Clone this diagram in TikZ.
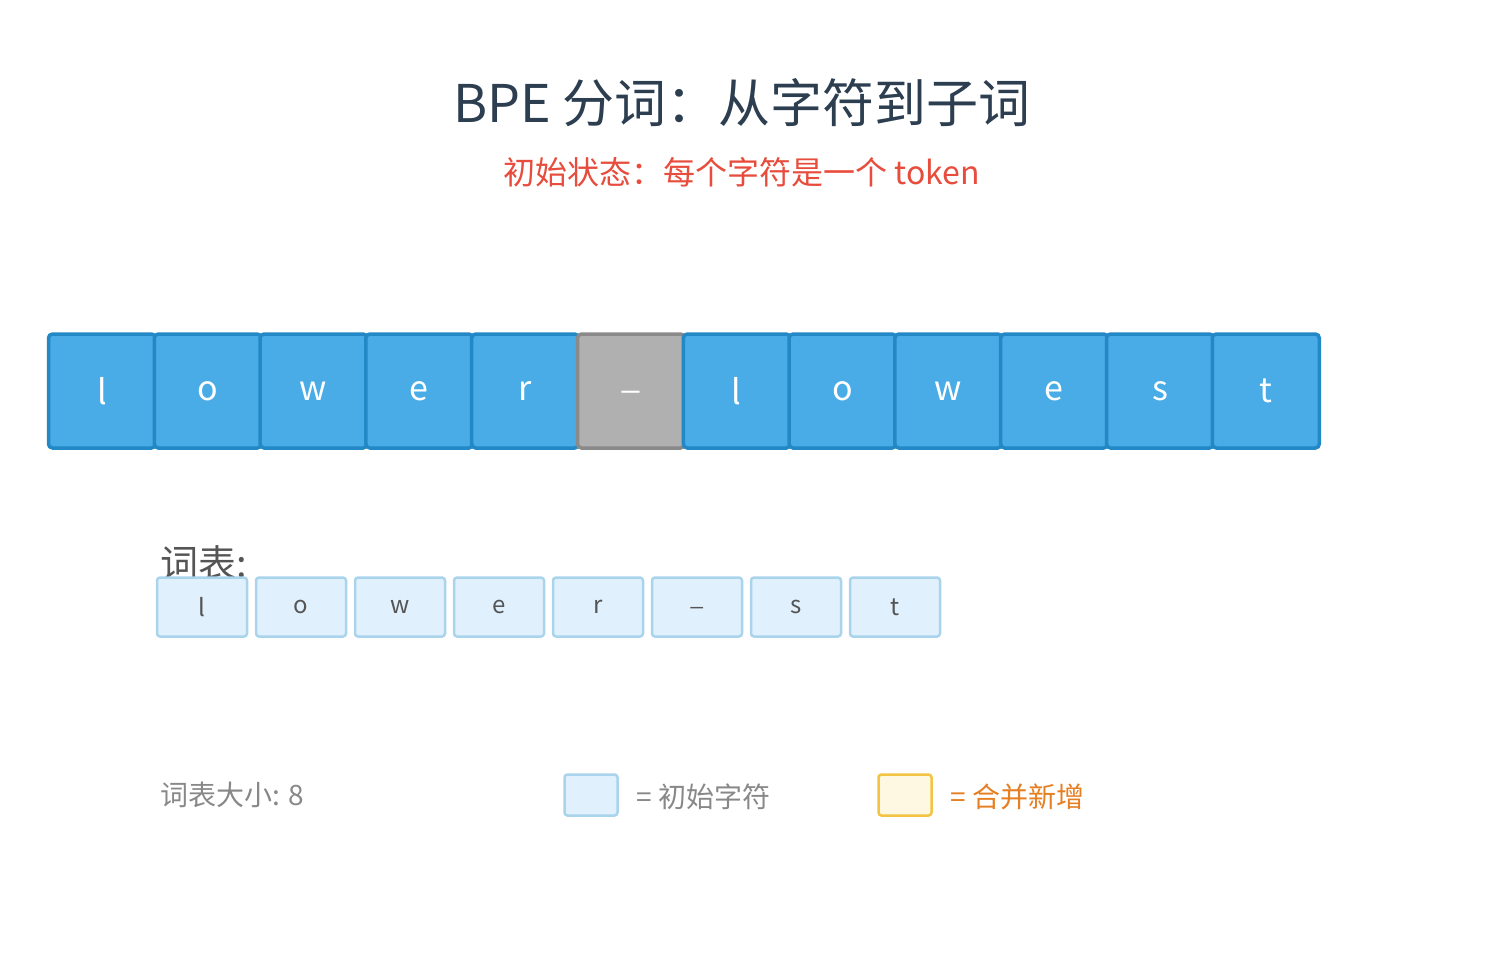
\documentclass[tikz,border=0pt]{standalone}
\usepackage{fontspec}
\setmainfont{Noto Sans CJK SC}
\definecolor{bfill}{HTML}{4AACE6}
\definecolor{bdraw}{HTML}{2388C6}
\definecolor{gfill}{HTML}{B0B0B0}
\definecolor{gdraw}{HTML}{8A8A8A}
\definecolor{vfill}{HTML}{E0F0FC}
\definecolor{vdraw}{HTML}{A9D4EC}
\definecolor{yfill}{HTML}{FEF8E3}
\definecolor{ydraw}{HTML}{F3C443}
\definecolor{titlec}{HTML}{2C3E50}
\definecolor{redc}{HTML}{E74C3C}
\definecolor{orc}{HTML}{E67E22}
\definecolor{txtc}{HTML}{555555}
\definecolor{grc}{HTML}{888888}
\begin{document}
\begin{tikzpicture}[x=1pt,y=-1pt,
  tok/.style={draw=bdraw,fill=bfill,line width=3.5pt,rounded corners=4pt,minimum width=107pt,minimum height=114pt,text=white,font=\fontsize{34}{40}\selectfont},
  gtok/.style={tok,draw=gdraw,fill=gfill},
  voc/.style={draw=vdraw,fill=vfill,line width=2.5pt,rounded corners=3pt,minimum width=90pt,minimum height=59pt,text=txtc,font=\fontsize{24}{28}\selectfont},
  leg/.style={line width=2.5pt,rounded corners=3pt,minimum width=53pt,minimum height=41pt}]
\useasboundingbox (0,0) rectangle (1485,956);
\node[text=titlec,font=\fontsize{52}{60}\selectfont] (title) at (742,103) {BPE 分词：从字符到子词};
\node[text=redc,font=\fontsize{32}{38}\selectfont] (sub) at (742,172) {初始状态：每个字符是一个 token};
\foreach \t [count=\i from 0] in {l,o,w,e,r,\_,l,o,w,e,s,t}{
  \ifnum\i=5
    \node[gtok] (b\i) at (102+105.8*\i,391) {\t};
  \else
    \node[tok] (b\i) at (102+105.8*\i,391) {\t};
  \fi
}
\node[text=txtc,font=\fontsize{38}{44}\selectfont,anchor=west,inner sep=0] (vl) at (160,563) {词表:};
\foreach \t [count=\i from 0] in {l,o,w,e,r,\_,s,t}{
  \node[voc] (v\i) at (202+99*\i,607) {\t};
}
\node[text=grc,font=\fontsize{28}{34}\selectfont,anchor=west,inner sep=0] (size) at (160,795) {词表大小: 8};
\node[leg,draw=vdraw,fill=vfill] (l1) at (591,795) {};
\node[text=grc,font=\fontsize{28}{34}\selectfont,anchor=west,inner sep=0] (l1t) at (636,797) {= 初始字符};
\node[leg,draw=ydraw,fill=yfill] (l2) at (905,795) {};
\node[text=orc,font=\fontsize{28}{34}\selectfont,anchor=west,inner sep=0] (l2t) at (950,797) {= 合并新增};
\end{tikzpicture}
\end{document}
